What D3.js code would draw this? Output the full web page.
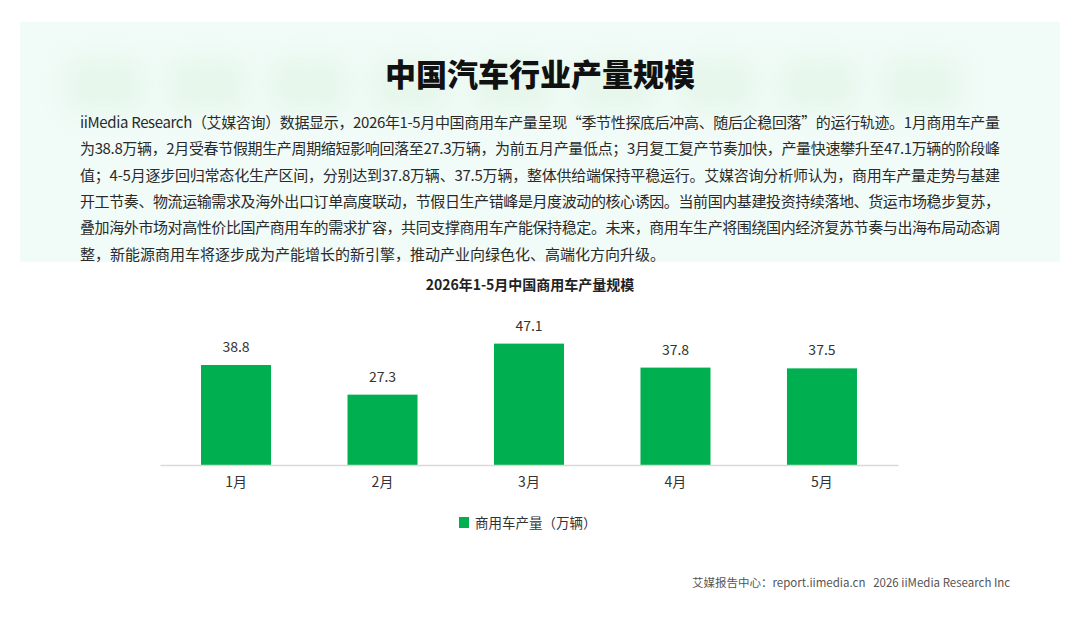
<!DOCTYPE html>
<html>
<head>
<meta charset="utf-8">
<script src="https://cdn.jsdelivr.net/npm/d3@7"></script>
<style>
  body { margin: 0; background: #fff; }
  svg text { font-family: "Noto Sans CJK SC", "Noto Sans", sans-serif; }
</style>
</head>
<body>
<div id="container"></div>
<script>
  const months = ["1月", "2月", "3月", "4月", "5月"];
  const output = [38.8, 27.3, 47.1, 37.8, 37.5];
  const seriesName = "商用车产量（万辆）";
  const pageTitle = "中国汽车行业产量规模";
  const chartTitle = "2026年1-5月中国商用车产量规模";
  const paragraph = [
    "iiMedia Research（艾媒咨询）数据显示，2026年1-5月中国商用车产量呈现“季节性探底后冲高、随后企稳回落”的运行轨迹。1月商用车产量",
    "为38.8万辆，2月受春节假期生产周期缩短影响回落至27.3万辆，为前五月产量低点；3月复工复产节奏加快，产量快速攀升至47.1万辆的阶段峰",
    "值；4-5月逐步回归常态化生产区间，分别达到37.8万辆、37.5万辆，整体供给端保持平稳运行。艾媒咨询分析师认为，商用车产量走势与基建",
    "开工节奏、物流运输需求及海外出口订单高度联动，节假日生产错峰是月度波动的核心诱因。当前国内基建投资持续落地、货运市场稳步复苏，",
    "叠加海外市场对高性价比国产商用车的需求扩容，共同支撑商用车产能保持稳定。未来，商用车生产将围绕国内经济复苏节奏与出海布局动态调",
    "整，新能源商用车将逐步成为产能增长的新引擎，推动产业向绿色化、高端化方向升级。"
  ];
  const footer = "艾媒报告中心：report.iimedia.cn   2026 iiMedia Research Inc";

  const WIDTH = 1080, HEIGHT = 623;
  const GREEN = "#00b050";

  window.onload = function() {
    let svg = d3.select("#container").append("svg")
      .attr("width", WIDTH)
      .attr("height", HEIGHT);

    drawHeader(svg);
    drawChart(svg);

    svg.append("text")
      .attr("x", 692).attr("y", 587)
      .attr("font-size", 11.5)
      .attr("fill", "#555")
      .style("white-space", "pre")
      .text(footer);
  };

  function drawHeader(svg) {
    let defs = svg.append("defs");
    defs.append("filter").attr("id", "blur")
      .attr("x", "-50%").attr("y", "-50%").attr("width", "200%").attr("height", "200%")
      .append("feGaussianBlur").attr("stdDeviation", 12);

    // 연한 민트 배경 패널
    svg.append("rect")
      .attr("x", 20).attr("y", 22)
      .attr("width", 1040).attr("height", 240)
      .attr("fill", "#f1fbf8");

    // 흐릿한 초록 워터마크 블록
    let blobs = svg.append("g").attr("filter", "url(#blur)").attr("opacity", 0.22);
    d3.range(9).forEach(function(i) {
      blobs.append("rect")
        .attr("x", 65 + i * 102).attr("y", 58)
        .attr("width", 80).attr("height", 55)
        .attr("rx", 8)
        .attr("fill", "#c4e8c0");
    });

    svg.append("text")
      .attr("x", 540).attr("y", 86)
      .attr("text-anchor", "middle")
      .attr("font-size", 31)
      .attr("font-weight", 900)
      .attr("fill", "#111")
      .text(pageTitle);

    let para = svg.append("g");
    paragraph.forEach(function(line, i) {
      let t = para.append("text")
        .attr("x", 80)
        .attr("y", 128 + i * 26.3)
        .attr("font-size", 15)
        .attr("fill", "#2a2a2a")
        .text(line);
      if (i < paragraph.length - 1) {
        t.attr("textLength", 920).attr("lengthAdjust", "spacing");
      }
    });
  }

  function drawChart(svg) {
    let x = d3.scaleBand()
      .domain(months)
      .range([160, 898])
      .paddingInner(0.522)
      .paddingOuter(0.28);

    let y = d3.scaleLinear()
      .domain([0, 60])
      .range([465, 465 - 2.577 * 60]);

    svg.append("text")
      .attr("x", 530).attr("y", 290)
      .attr("text-anchor", "middle")
      .attr("font-size", 14)
      .attr("font-weight", 700)
      .attr("fill", "#222")
      .text(chartTitle);

    svg.selectAll("rect.bar")
      .data(output)
      .enter()
      .append("rect")
      .attr("class", "bar")
      .attr("x", function(d, i) { return x(months[i]); })
      .attr("y", function(d) { return y(d); })
      .attr("width", x.bandwidth())
      .attr("height", function(d) { return y(0) - y(d); })
      .attr("fill", GREEN);

    svg.selectAll("text.val")
      .data(output)
      .enter()
      .append("text")
      .attr("class", "val")
      .attr("x", function(d, i) { return x(months[i]) + x.bandwidth() / 2; })
      .attr("y", function(d) { return y(d) - 13; })
      .attr("text-anchor", "middle")
      .attr("font-size", 14)
      .attr("fill", "#333")
      .text(function(d) { return d.toFixed(1); });

    let axis = svg.append("g")
      .attr("transform", "translate(0," + y(0) + ")")
      .call(d3.axisBottom(x).tickSize(0).tickPadding(12));
    axis.select(".domain").attr("stroke", "#d9d9d9").attr("stroke-width", 1.5);
    axis.selectAll("text")
      .attr("font-size", 14)
      .attr("fill", "#333")
      .style("font-family", "'Noto Sans CJK SC', sans-serif");

    let legend = svg.append("g").attr("transform", "translate(459, 517)");
    legend.append("rect")
      .attr("width", 10).attr("height", 11)
      .attr("fill", GREEN);
    legend.append("text")
      .attr("x", 16).attr("y", 10.5)
      .attr("font-size", 13.5)
      .attr("fill", "#333")
      .text(seriesName);
  }
</script>
</body>
</html>
